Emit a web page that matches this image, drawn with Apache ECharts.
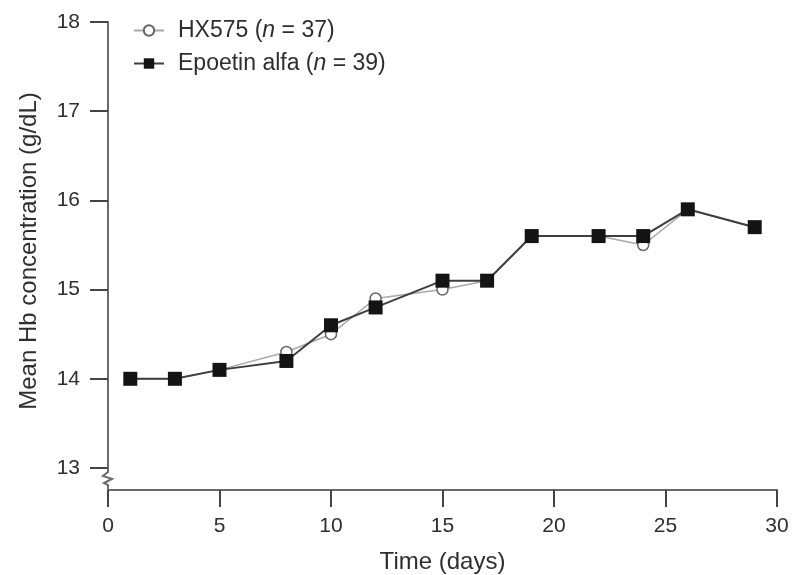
<!DOCTYPE html>
<html>
<head>
<meta charset="utf-8">
<script src="https://cdn.jsdelivr.net/npm/echarts@6/dist/echarts.min.js"></script>
<style>
    html, body { margin: 0; padding: 0; background: #fff; }
    #main { width: 794px; height: 575px; }
</style>
</head>
<body>
<div id="main"></div>
<script>
const days = [1, 3, 5, 8, 10, 12, 15, 17, 19, 22, 24, 26, 29]
const hx575 = [14.0, 14.0, 14.1, 14.3, 14.5, 14.9, 15.0, 15.1, 15.6, 15.6, 15.5, 15.9, 15.7]
const epoetin = [14.0, 14.0, 14.1, 14.2, 14.6, 14.8, 15.1, 15.1, 15.6, 15.6, 15.6, 15.9, 15.7]

const pairs = (xs, ys) => xs.map((x, i) => [x, ys[i]])

const font = 'Liberation Sans, Arial, sans-serif'
const axisColor = '#6a6a6a'
const textColor = '#2e2e2e'
const xOffset = 22

const chart = echarts.init(document.getElementById('main'))

chart.setOption({
    animation: false,
    textStyle: { fontFamily: font },
    grid: {
        left: 108,
        right: 17,
        top: 22,
        bottom: 107,
        outerBoundsMode: 'none',
    },
    legend: {
        orient: 'vertical',
        left: 128,
        top: 14,
        itemWidth: 30,
        itemHeight: 13,
        itemGap: 10,
        textStyle: {
            fontFamily: font,
            fontSize: 23,
            color: textColor,
            padding: [0, 0, 0, 9],
            rich: {
                i: { fontStyle: 'italic', fontSize: 23, color: textColor, fontFamily: font },
            },
        },
        formatter: name => {
            if (name === 'HX575') return 'HX575 ({i|n} = 37)'
            return 'Epoetin alfa ({i|n} = 39)'
        },
        data: ['HX575', 'Epoetin alfa'],
    },
    xAxis: {
        type: 'value',
        min: 0,
        max: 30,
        interval: 5,
        offset: xOffset,
        name: 'Time (days)',
        nameLocation: 'middle',
        nameGap: 60,
        nameTextStyle: { fontSize: 24, color: textColor, fontFamily: font },
        axisLine: { show: true, lineStyle: { color: axisColor, width: 2 } },
        axisTick: { show: true, length: 17, lineStyle: { color: '#444', width: 2 } },
        axisLabel: { margin: 26, fontSize: 21, color: textColor, fontFamily: font },
        splitLine: { show: false },
    },
    yAxis: {
        type: 'value',
        min: 13,
        max: 18,
        interval: 1,
        name: 'Mean Hb concentration (g/dL)',
        nameLocation: 'middle',
        nameGap: 67,
        nameTextStyle: { fontSize: 24, color: textColor, fontFamily: font, padding: [0, 12, 0, 0] },
        axisLine: { show: true, lineStyle: { color: axisColor, width: 2 } },
        axisTick: { show: true, length: 18, lineStyle: { color: '#444', width: 2 } },
        axisLabel: { margin: 28, fontSize: 21, color: textColor, fontFamily: font },
        splitLine: { show: false },
    },
    series: [
        {
            name: 'HX575',
            type: 'line',
            data: pairs(days, hx575),
            symbol: 'circle',
            symbolSize: 11,
            lineStyle: { color: '#a8a8a8', width: 1.5 },
            itemStyle: { color: '#fff', borderColor: '#666', borderWidth: 1.5 },
            z: 2,
        },
        {
            name: 'Epoetin alfa',
            type: 'line',
            data: pairs(days, epoetin),
            symbol: 'rect',
            symbolSize: 14,
            lineStyle: { color: '#3e3e3e', width: 2 },
            itemStyle: { color: '#141414' },
            z: 3,
        },
    ],
})

// axis break mark between 13 and the x axis
const p13 = chart.convertToPixel({ xAxisIndex: 0, yAxisIndex: 0 }, [0, 13])
const bx = p13[0]
const by = p13[1]
chart.setOption({
    graphic: [
        {
            type: 'polyline',
            shape: {
                points: [
                    [bx, by],
                    [bx, by + 4],
                    [bx - 5, by + 8],
                    [bx + 4, by + 11],
                    [bx - 4, by + 15],
                    [bx, by + 17],
                    [bx, by + xOffset],
                ],
            },
            style: { stroke: axisColor, lineWidth: 2, fill: null },
            z: 10,
        },
    ],
})
</script>
</body>
</html>
